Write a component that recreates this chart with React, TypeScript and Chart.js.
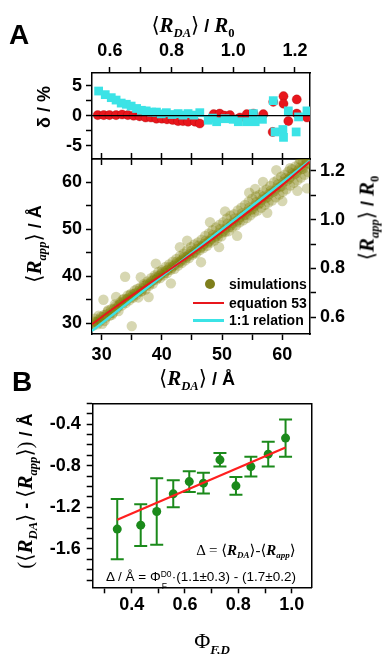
import React, { useEffect, useRef } from "react";
import { Chart, registerables } from "chart.js";
Chart.register(...registerables);

const W = 384;
const H = 654;
const SANS = "'Liberation Sans', Arial, Helvetica, sans-serif";
const SERIF = "'Liberation Serif', 'Times New Roman', 'DejaVu Serif', serif";

// ---------------- Panel A data ----------------
// simulations: [<R_DA>, <R_app>] in Å
const SIMULATIONS: [number, number][] = [
  [28.6, 29.5], [28.9, 31.0], [29.2, 30.2], [29.5, 31.6], [29.8, 30.6], [30.1, 29.9], [30.4, 31.8], [30.7, 31.2],
  [31.0, 32.5], [31.3, 31.6], [31.6, 33.0], [31.9, 32.2], [32.2, 34.0], [32.5, 33.1], [32.8, 32.6], [33.1, 34.5],
  [33.4, 33.8], [33.7, 35.2], [34.0, 34.3], [34.3, 35.9], [34.6, 34.9], [34.9, 36.3], [35.2, 35.4], [35.5, 37.0],
  [35.8, 36.1], [36.1, 35.5], [36.4, 37.6], [36.7, 36.9], [37.0, 38.3], [37.3, 37.2], [37.6, 38.9], [37.9, 38.0],
  [38.2, 39.6], [38.5, 38.4], [38.8, 40.2], [39.1, 39.3], [39.4, 40.9], [39.7, 39.6], [40.0, 41.3], [40.3, 40.2],
  [40.6, 42.0], [40.9, 40.7], [41.2, 42.5], [41.5, 41.4], [41.8, 43.1], [42.1, 41.6], [42.4, 43.7], [42.7, 42.3],
  [43.0, 44.3], [43.3, 42.8], [43.6, 44.8], [43.9, 43.4], [44.2, 45.5], [44.5, 43.9], [44.8, 46.2], [45.1, 44.6],
  [45.4, 46.8], [45.7, 44.9], [46.0, 47.2], [46.3, 45.6], [46.6, 47.8], [46.9, 46.0], [47.2, 48.6], [47.5, 46.5],
  [47.8, 49.1], [48.1, 47.2], [48.4, 49.8], [48.7, 47.6], [49.0, 50.4], [49.3, 48.2], [49.6, 51.0], [49.9, 48.5],
  [50.2, 51.5], [50.5, 49.4], [50.8, 52.3], [51.1, 49.6], [51.4, 52.9], [51.7, 50.4], [52.0, 53.2], [52.3, 50.8],
  [52.6, 54.0], [52.9, 51.5], [53.2, 54.6], [53.5, 51.9], [53.8, 55.2], [54.1, 52.4], [54.4, 55.9], [54.7, 53.0],
  [55.0, 56.5], [55.3, 53.6], [55.6, 57.0], [55.9, 54.0], [56.2, 57.3], [56.5, 54.6], [56.8, 58.0], [57.1, 55.2],
  [57.4, 58.5], [57.7, 55.7], [58.0, 59.2], [58.3, 56.1], [58.6, 60.0], [58.9, 56.8], [59.2, 60.5], [59.5, 57.4],
  [59.8, 61.2], [60.1, 58.0], [60.4, 61.6], [60.7, 58.5], [61.0, 62.3], [61.3, 59.3], [61.6, 62.8], [61.9, 59.9],
  [62.2, 63.4], [62.5, 60.4], [62.8, 63.9], [63.1, 61.0], [63.4, 64.3], [63.7, 61.6], [64.0, 64.7], [64.3, 62.2],
  [28.5, 29.9], [29.0, 30.3], [29.6, 30.8], [30.2, 31.3], [30.8, 31.9], [31.4, 32.2], [32.0, 33.0], [32.6, 33.5],
  [33.2, 34.2], [33.8, 34.6], [34.4, 35.3], [35.0, 35.6], [35.6, 36.4], [36.2, 36.9], [36.8, 37.4], [37.4, 38.1],
  [38.0, 38.5], [38.6, 39.2], [39.2, 39.6], [39.8, 40.4], [40.4, 40.7], [41.0, 41.4], [41.6, 41.8], [42.2, 42.5],
  [42.8, 42.9], [43.4, 43.6], [44.0, 44.0], [44.6, 44.7], [45.2, 45.0], [45.8, 45.8], [46.4, 46.1], [47.0, 46.9],
  [47.6, 47.2], [48.2, 48.0], [48.8, 48.3], [49.4, 49.1], [50.0, 49.3], [50.6, 50.2], [51.2, 50.5], [51.8, 51.4],
  [52.4, 51.7], [53.0, 52.6], [53.6, 53.0], [54.2, 53.8], [54.8, 54.1], [55.4, 55.0], [56.0, 55.3], [56.6, 56.3],
  [57.2, 56.6], [57.8, 57.5], [58.4, 57.9], [59.0, 58.7], [59.6, 59.0], [60.2, 60.1], [60.8, 60.4], [61.4, 61.2],
  [62.0, 61.7], [62.6, 62.5], [63.2, 62.8], [63.8, 63.7], [64.4, 64.0],
  [28.7, 30.4], [29.3, 29.8], [29.9, 31.4], [30.5, 30.5], [31.1, 32.8], [31.7, 31.8], [32.3, 33.6], [32.9, 33.9],
  [33.5, 35.0], [34.1, 35.1], [34.7, 36.0], [35.3, 36.2], [35.9, 37.3], [36.5, 36.7], [37.1, 38.0], [37.7, 38.5],
  [38.3, 39.0], [38.9, 39.8], [39.5, 40.0], [40.1, 40.9], [40.7, 41.2], [41.3, 42.0], [41.9, 42.2], [42.5, 43.1],
  [43.1, 43.2], [43.7, 44.2], [44.3, 44.3], [44.9, 45.4], [45.5, 45.2], [46.1, 46.5], [46.7, 46.4], [47.3, 47.6],
  [47.9, 47.5], [48.5, 48.8], [49.1, 48.6], [49.7, 50.1], [50.3, 49.7], [50.9, 51.2], [51.5, 50.9], [52.1, 52.3],
  [52.7, 52.0], [53.3, 53.4], [53.9, 53.1], [54.5, 54.6], [55.1, 54.3], [55.7, 55.8], [56.3, 55.6], [56.9, 57.0],
  [57.5, 56.8], [58.1, 58.2], [58.7, 58.1], [59.3, 59.6], [59.9, 59.2], [60.5, 60.9], [61.1, 60.7], [61.7, 62.0],
  [62.3, 61.9], [62.9, 63.1], [63.5, 62.9], [64.1, 64.2],
  [30.3, 35.0], [33.9, 39.9], [35.0, 29.4], [32.4, 35.6], [36.5, 39.8], [39.0, 42.7], [41.5, 38.5], [44.2, 47.6],
  [46.5, 43.0], [48.0, 51.5], [50.5, 53.8], [52.5, 48.6], [54.5, 57.8], [56.8, 60.1], [57.5, 53.5], [59.0, 62.6],
  [61.3, 63.0], [62.5, 58.2], [64.1, 58.7], [63.0, 64.8], [60.0, 56.0], [55.5, 58.6], [49.5, 46.2], [43.0, 46.2],
  [37.8, 35.6],
];
const EQ53_X = [28.4, 32, 36, 40, 44, 48, 52, 56, 60, 64.6];
const EQ53_Y = [29.8, 33.2, 36.8, 40.3, 43.8, 47.5, 51.4, 55.3, 59.4, 64.4];
const ONE_TO_ONE_X = [28.4, 64.6];
const ONE_TO_ONE_Y = [28.4, 64.6];
// deviations delta / % vs <R_DA> (Å)
const DELTA_EQ53: [number, number][] = [
  [29.35, 0.1], [30.35, 0.1], [31.3, 0.1], [32.4, 0.1], [33.4, 0.2], [34.35, 0.1], [35.3, 0.0], [36.3, -0.1],
  [37.3, -0.3], [38.2, -0.3], [39.1, -0.5], [40.0, -0.5], [40.85, -0.6], [41.8, -0.7], [42.7, -0.9], [43.5, -0.9],
  [44.35, -1.0], [45.5, -1.0], [46.3, -1.3], [48.6, 0.25], [49.6, 0.35], [50.4, 0.0], [51.3, 0.1], [52.4, -0.6],
  [52.97, -0.3], [54.1, 0.25], [55.2, 0.35], [56.85, 0.25], [58.5, 2.3], [58.4, -2.7], [60.2, 3.25], [60.2, 2.0],
  [61.0, -0.9], [62.4, 2.7], [62.4, 0.35], [64.1, -0.3],
];
const DELTA_ONE_TO_ONE: [number, number][] = [
  [29.5, 4.1], [30.6, 3.5], [31.6, 3.0], [32.4, 2.6], [33.25, 2.1], [34.1, 1.9], [34.9, 1.6], [35.8, 1.2],
  [36.6, 0.9], [37.4, 0.8], [38.3, 0.6], [39.1, 0.6], [39.9, 0.3], [40.75, 0.5], [41.7, 0.2], [42.7, 0.35],
  [43.5, 0.1], [44.35, 0.35], [45.3, 0.1], [46.3, 0.5], [47.7, -0.75], [48.4, -0.4], [49.1, -1.0], [50.5, -0.5],
  [51.85, -0.6], [52.7, -1.0], [54.1, -1.0], [55.2, 0.35], [55.5, -1.0], [56.7, -0.6], [58.5, 2.5], [58.8, -2.7],
  [60.1, -2.3], [60.2, -3.6], [61.0, 0.8], [62.3, -2.7], [62.7, -0.2], [64.1, 0.8],
];

const A_X_TICKS = [30, 35, 40, 45, 50, 55, 60];
const A_X_LABELS = [30, 40, 50, 60];
const A_TOP_TICKS = [0.6, 0.7, 0.8, 0.9, 1.0, 1.1, 1.2];
const A_TOP_LABELS = [0.6, 0.8, 1.0, 1.2];
const A_Y_TICKS = [30, 35, 40, 45, 50, 55, 60];
const A_Y_LABELS = [30, 40, 50, 60];
const A_Y2_TICKS = [0.6, 0.7, 0.8, 0.9, 1.0, 1.1, 1.2];
const A_Y2_LABELS = [0.6, 0.8, 1.0, 1.2];
const D_TICKS = [-5, -2.5, 0, 2.5, 5];
const D_LABELS = [-5, 0, 5];

// ---------------- Panel B data ----------------
const PHI_FD = [0.346, 0.434, 0.494, 0.556, 0.616, 0.669, 0.731, 0.791, 0.847, 0.912, 0.977];
const DELTA_R = [-1.41, -1.372, -1.241, -1.071, -0.953, -0.968, -0.744, -0.994, -0.809, -0.689, -0.535];
const DELTA_ERR = [0.29, 0.2, 0.32, 0.13, 0.1, 0.1, 0.065, 0.085, 0.095, 0.12, 0.18];
const FIT_X = [0.346, 0.977];
const FIT_Y = [-1.32, -0.625];
const B_X_TICKS = [0.3, 0.4, 0.5, 0.6, 0.7, 0.8, 0.9, 1.0];
const B_X_LABELS = [0.4, 0.6, 0.8, 1.0];
const B_Y_TICKS = [-1.9, -1.8, -1.7, -1.6, -1.5, -1.4, -1.3, -1.2, -1.1, -1.0, -0.9, -0.8, -0.7, -0.6, -0.5, -0.4, -0.3, -0.2];
const B_Y_LABELS = [-1.6, -1.2, -0.8, -0.4];

// axis ranges
const AX_MIN = 28.4, AX_MAX = 64.6;
const AY_MIN = 27.72, AY_MAX = 64.96;
const AY2_MIN = 0.532, AY2_MAX = 1.248;
const ATOP_MIN = 0.542, ATOP_MAX = 1.249;
const D_MIN = -7.2, D_MAX = 7.1;
const BX_MIN = 0.254, BX_MAX = 1.075;
const BY_MIN = -1.97, BY_MAX = -0.2;

const RED = "#e8161c";
const CYAN = "#3be3e6";
const GREEN = "#1b8a1b";
const OLIVE = "rgba(122,122,0,0.3)";

type AxOpt = {
  pos: "left" | "right" | "top" | "bottom";
  min: number;
  max: number;
  ticks?: number[];
  labels?: number[];
  size: number;
  pad?: number;
  fmt?: (v: number) => string;
};

function axis(o: AxOpt) {
  const horiz = o.pos === "top" || o.pos === "bottom";
  const ticks = o.ticks && o.ticks.length ? o.ticks : [o.min];
  const marks = !!o.ticks;
  const labels = o.labels || [];
  return {
    type: "linear",
    position: o.pos,
    min: o.min,
    max: o.max,
    bounds: "data",
    afterBuildTicks: (s: any) => {
      s.ticks = ticks.map((v) => ({ value: v }));
    },
    afterFit: (s: any) => {
      if (horiz) s.height = o.size;
      else s.width = o.size;
    },
    grid: { display: true, drawOnChartArea: false, drawTicks: marks, tickLength: 6, tickWidth: 1.5, tickColor: "#000" },
    border: { display: true, color: "#000", width: 1.5 },
    ticks: {
      display: labels.length > 0,
      autoSkip: false,
      maxRotation: 0,
      minRotation: 0,
      padding: o.pad ?? 4,
      color: "#000",
      font: { family: SANS, size: 18, weight: "bold" },
      callback: (v: number) =>
        labels.some((l) => Math.abs(l - v) < 1e-6) ? (o.fmt ? o.fmt(v) : String(v)) : "",
    },
  };
}

const baseOpts = (padding: any) => ({
  responsive: false,
  animation: false,
  events: [],
  layout: { padding },
  plugins: { legend: { display: false }, tooltip: { enabled: false } },
});

function deltaConfig(): any {
  return {
    type: "scatter",
    data: {
      datasets: [
        {
          data: [{ x: AX_MIN, y: 0 }, { x: AX_MAX, y: 0 }],
          showLine: true, borderColor: "#000", borderWidth: 1.2, pointRadius: 0,
        },
        {
          data: DELTA_ONE_TO_ONE.map(([x, y]) => ({ x, y })),
          pointStyle: "rect", pointRadius: 6.2, backgroundColor: CYAN, borderWidth: 0, clip: 0,
        },
        {
          data: DELTA_EQ53.map(([x, y]) => ({ x, y })),
          pointRadius: 4.6, backgroundColor: RED, borderColor: "rgba(160,0,0,0.5)", borderWidth: 0.6, clip: 0,
        },
      ],
    },
    options: {
      ...baseOpts({ left: 0, right: 0, top: 0, bottom: H - 159 - 6 }),
      scales: {
        x: axis({ pos: "bottom", min: AX_MIN, max: AX_MAX, ticks: A_X_TICKS, size: 6 }),
        xTop: axis({ pos: "top", min: ATOP_MIN, max: ATOP_MAX, ticks: A_TOP_TICKS, labels: A_TOP_LABELS, size: 73, pad: 5, fmt: (v) => v.toFixed(1) }),
        y: axis({ pos: "left", min: D_MIN, max: D_MAX, ticks: D_TICKS, labels: D_LABELS, size: 92, pad: 4 }),
        yR: axis({ pos: "right", min: D_MIN, max: D_MAX, size: W - 310 }),
      },
    },
  };
}

function mainConfig(): any {
  return {
    type: "scatter",
    data: {
      datasets: [
        {
          data: EQ53_X.map((x, i) => ({ x, y: EQ53_Y[i] })),
          showLine: true, borderColor: RED, borderWidth: 2, pointRadius: 0, tension: 0.3,
        },
        {
          data: ONE_TO_ONE_X.map((x, i) => ({ x, y: ONE_TO_ONE_Y[i] })),
          showLine: true, borderColor: CYAN, borderWidth: 2.6, pointRadius: 0,
        },
        {
          data: SIMULATIONS.map(([x, y]) => ({ x, y })),
          pointRadius: 5.2, backgroundColor: OLIVE, borderWidth: 0, clip: 0,
        },
      ],
    },
    options: {
      ...baseOpts({ left: 0, right: 0, top: 159 - 6, bottom: H - 334 - 40 }),
      scales: {
        x: axis({ pos: "bottom", min: AX_MIN, max: AX_MAX, ticks: A_X_TICKS, labels: A_X_LABELS, size: 40, pad: 4 }),
        xTop: axis({ pos: "top", min: AX_MIN, max: AX_MAX, ticks: A_X_TICKS, size: 6 }),
        y: axis({ pos: "left", min: AY_MIN, max: AY_MAX, ticks: A_Y_TICKS, labels: A_Y_LABELS, size: 92, pad: 4 }),
        y2: axis({ pos: "right", min: AY2_MIN, max: AY2_MAX, ticks: A_Y2_TICKS, labels: A_Y2_LABELS, size: W - 310, pad: 4, fmt: (v) => v.toFixed(1) }),
      },
    },
  };
}

const errorBars = {
  id: "errorBars",
  beforeDatasetsDraw(chart: any) {
    const { ctx, scales } = chart;
    const xs = scales.x;
    const ys = scales.y;
    ctx.save();
    ctx.strokeStyle = GREEN;
    ctx.lineWidth = 2;
    PHI_FD.forEach((p, i) => {
      const px = xs.getPixelForValue(p);
      const top = ys.getPixelForValue(DELTA_R[i] + DELTA_ERR[i]);
      const bot = ys.getPixelForValue(DELTA_R[i] - DELTA_ERR[i]);
      ctx.beginPath();
      ctx.moveTo(px, top);
      ctx.lineTo(px, bot);
      ctx.moveTo(px - 6.5, top);
      ctx.lineTo(px + 6.5, top);
      ctx.moveTo(px - 6.5, bot);
      ctx.lineTo(px + 6.5, bot);
      ctx.stroke();
    });
    ctx.restore();
  },
};

function bConfig(): any {
  return {
    type: "scatter",
    data: {
      datasets: [
        {
          data: FIT_X.map((x, i) => ({ x, y: FIT_Y[i] })),
          showLine: true, borderColor: "#ff1f1f", borderWidth: 2.2, pointRadius: 0,
        },
        {
          data: PHI_FD.map((x, i) => ({ x, y: DELTA_R[i] })),
          pointRadius: 4.5, backgroundColor: GREEN, borderWidth: 0,
        },
      ],
    },
    options: {
      ...baseOpts({ left: 0, right: 0, top: 0, bottom: H - 587.3 - 30 }),
      scales: {
        x: axis({ pos: "bottom", min: BX_MIN, max: BX_MAX, ticks: B_X_TICKS, labels: B_X_LABELS, size: 30, pad: 1, fmt: (v) => v.toFixed(1) }),
        xTop: axis({ pos: "top", min: BX_MIN, max: BX_MAX, size: 403.3 }),
        y: axis({ pos: "left", min: BY_MIN, max: BY_MAX, ticks: B_Y_TICKS, labels: B_Y_LABELS, size: 92.7, pad: 6, fmt: (v) => v.toFixed(1) }),
        yR: axis({ pos: "right", min: BY_MIN, max: BY_MAX, size: W - 311.7 }),
      },
    },
    plugins: [errorBars],
  };
}

// ---------------- text helpers ----------------
function Lbl({ x, y, rot = 0, left = false, children, style }: any) {
  return (
    <div
      style={{
        position: "absolute",
        left: x,
        top: y,
        transform: left ? "translate(0,-50%)" : `translate(-50%,-50%) rotate(${rot}deg)`,
        whiteSpace: "nowrap",
        lineHeight: 1,
        color: "#000",
        ...style,
      }}
    >
      {children}
    </div>
  );
}

function RV({ sub, size, upright = false }: { sub: string; size: number; upright?: boolean }) {
  return (
    <span>
      <span style={{ fontFamily: SERIF, fontStyle: "italic", fontWeight: "bold", fontSize: size }}>R</span>
      <span
        style={{
          fontFamily: SERIF,
          fontStyle: upright ? "normal" : "italic",
          fontWeight: "bold",
          fontSize: size * 0.6,
          verticalAlign: `-${size * 0.25}px`,
        }}
      >
        {sub}
      </span>
    </span>
  );
}

function Br({ c, size }: { c: string; size: number }) {
  return <span style={{ fontFamily: SERIF, fontSize: size }}>{c}</span>;
}

function Sl({ t, size }: { t: string; size: number }) {
  return <span style={{ fontFamily: SANS, fontWeight: "bold", fontSize: size }}>{t}</span>;
}

function Avg({ sub, size, upright = false }: { sub: string; size: number; upright?: boolean }) {
  return (
    <span>
      <Br c="⟨" size={size} />
      <RV sub={sub} size={size} upright={upright} />
      <Br c="⟩" size={size} />
    </span>
  );
}

export default function App() {
  const c1 = useRef<HTMLCanvasElement>(null);
  const c2 = useRef<HTMLCanvasElement>(null);
  const c3 = useRef<HTMLCanvasElement>(null);

  useEffect(() => {
    const charts = [
      new Chart(c1.current as HTMLCanvasElement, deltaConfig()),
      new Chart(c2.current as HTMLCanvasElement, mainConfig()),
      new Chart(c3.current as HTMLCanvasElement, bConfig()),
    ];
    return () => charts.forEach((c) => c.destroy());
  }, []);

  const cv = { position: "absolute" as const, left: 0, top: 0 };
  const T = 21;

  return (
    <div style={{ position: "absolute", left: 0, top: 0, width: W, height: H, overflow: "hidden", background: "#fff" }}>
      <canvas ref={c1} width={W} height={H} style={cv} />
      <canvas ref={c2} width={W} height={H} style={cv} />
      <canvas ref={c3} width={W} height={H} style={cv} />

      {/* panel letters */}
      <div style={{ position: "absolute", left: 9, top: 21, fontFamily: SANS, fontWeight: "bold", fontSize: 28, lineHeight: 1 }}>A</div>
      <div style={{ position: "absolute", left: 12, top: 368, fontFamily: SANS, fontWeight: "bold", fontSize: 28, lineHeight: 1 }}>B</div>

      {/* top axis title */}
      <Lbl x={193} y={27}>
        <Avg sub="DA" size={T} />
        <Sl t=" / " size={18} />
        <RV sub="0" size={T} upright />
      </Lbl>

      {/* delta axis title */}
      <Lbl x={44} y={107} rot={-90}>
        <Sl t="δ / %" size={18} />
      </Lbl>

      {/* main y titles */}
      <Lbl x={36} y={244} rot={-90}>
        <Avg sub="app" size={T} />
        <Sl t=" / Å" size={18} />
      </Lbl>
      <Lbl x={369} y={218} rot={-90}>
        <Avg sub="app" size={T} />
        <Sl t=" / " size={18} />
        <RV sub="0" size={T} upright />
      </Lbl>

      {/* main x title */}
      <Lbl x={197} y={380}>
        <Avg sub="DA" size={T} />
        <Sl t=" / Å" size={18} />
      </Lbl>

      {/* legend */}
      <div style={{ position: "absolute", left: 205, top: 279, width: 10, height: 10, borderRadius: "50%", background: "#7f7f1c" }} />
      <div style={{ position: "absolute", left: 193, top: 302, width: 31, height: 2, background: RED }} />
      <div style={{ position: "absolute", left: 193, top: 319, width: 31, height: 2.5, background: CYAN }} />
      <Lbl x={229} y={284} left style={{ fontFamily: SANS, fontWeight: "bold", fontSize: 14 }}>simulations</Lbl>
      <Lbl x={229} y={302.5} left style={{ fontFamily: SANS, fontWeight: "bold", fontSize: 14 }}>equation 53</Lbl>
      <Lbl x={229} y={320} left style={{ fontFamily: SANS, fontWeight: "bold", fontSize: 14 }}>1:1 relation</Lbl>

      {/* panel B titles */}
      <Lbl x={27} y={491} rot={-90}>
        <Br c="(" size={T} />
        <Avg sub="DA" size={T} />
        <Sl t=" - " size={18} />
        <Avg sub="app" size={T} />
        <Br c=")" size={T} />
        <Sl t=" / Å" size={18} />
      </Lbl>
      <Lbl x={212} y={643}>
        <span style={{ fontFamily: SERIF, fontSize: 22 }}>Φ</span>
        <span style={{ fontFamily: SERIF, fontStyle: "italic", fontWeight: "bold", fontSize: 13, verticalAlign: "-6px" }}>F,D</span>
      </Lbl>

      {/* panel B annotations */}
      <Lbl x={246} y={551}>
        <span style={{ fontFamily: SERIF, fontSize: 15 }}>Δ = </span>
        <Avg sub="DA" size={15} />
        <span style={{ fontFamily: SERIF, fontSize: 15 }}>-</span>
        <Avg sub="app" size={15} />
      </Lbl>
      <Lbl x={201} y={577} style={{ fontFamily: SANS, fontSize: 13.5 }}>
        <span>Δ / Å = Φ</span>
        <span style={{ position: "relative", display: "inline-block", width: 11, fontSize: 8.5, lineHeight: 1 }}>
          <span style={{ position: "absolute", left: 0, top: -11 }}>D0</span>
          <span style={{ position: "absolute", left: 1, top: 1 }}>F</span>
        </span>
        <span>·(1.1±0.3) - (1.7±0.2)</span>
      </Lbl>
    </div>
  );
}
